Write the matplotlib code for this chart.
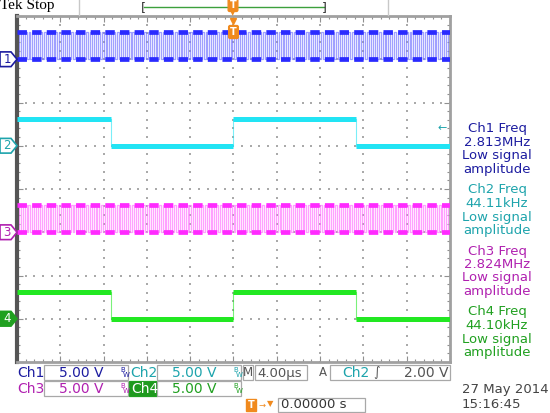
import numpy as np
import matplotlib
matplotlib.use('Agg')
from matplotlib import pyplot as plt
from matplotlib.patches import Rectangle, Polygon

# channel data
channels = ['Ch1', 'Ch2', 'Ch3', 'Ch4']
freq_labels = ['2.813MHz', '44.11kHz', '2.824MHz', '44.10kHz']
freq_hz = [2.813e6, 44.11e3, 2.824e6, 44.10e3]
offsets_div = [3, 1, -1, -3]          # ground marker positions (divisions)
amplitude_v = [3.1, 3.1, 3.1, 3.1]    # logic high level, volts
volts_per_div = [5.0, 5.0, 5.0, 5.0]
# edge times (us) of the slow word-clock channels, first level is high
slow_edges_us = [-11.3, 0.0, 11.3]
time_per_div_us = 4.0
trig_level_v = 2.00

trace_colors = ['#2a2aff', '#22e4f4', '#ff2aff', '#22e822']
text_colors = ['#1c1ca0', '#1ea4ac', '#b020b0', '#20a020']
orange = '#f08a1e'

W, H = 550, 413
fig = plt.figure(figsize=(5.5, 4.13), dpi=100)
fx = lambda x: x / W
fy = lambda y: 1 - y / H

ax = fig.add_axes([fx(17), fy(362), 433 / W, 346 / H])
t0 = -5 * time_per_div_us
t1 = 5 * time_per_div_us
ax.set_xlim(t0, t1)
ax.set_ylim(-4, 4)

# graticule dots
for k in range(-4, 5):
    yy = np.arange(-4, 4.01, 0.2)
    ax.scatter(np.full(yy.size, k * time_per_div_us), yy, s=1.0, marker='s',
               color='#aaaaaa', linewidths=0, zorder=1)
for j in range(-3, 4):
    xx = np.arange(t0, t1 + 0.01, time_per_div_us / 5)
    ax.scatter(xx, np.full(xx.size, j), s=1.0, marker='s',
               color='#aaaaaa', linewidths=0, zorder=1)

ax.set_xticks(np.arange(t0, t1 + 0.1, time_per_div_us))
ax.set_xticks(np.arange(t0, t1 + 0.1, time_per_div_us / 5), minor=True)
ax.set_yticks(np.arange(-4, 4.1, 1))
ax.set_yticks(np.arange(-4, 4.1, 0.2), minor=True)
ax.tick_params(which='both', direction='in', top=True, right=True,
               labelbottom=False, labelleft=False, color='#909090')
ax.tick_params(which='major', length=4, width=0.8)
ax.tick_params(which='minor', length=2.5, width=0.8)
for s in ['top', 'right', 'bottom']:
    ax.spines[s].set_color('#a0a0a0')
    ax.spines[s].set_linewidth(2)
ax.spines['left'].set_color('#555555')
ax.spines['left'].set_linewidth(3)

# fast clocks (Ch1, Ch3)
for i in [0, 2]:
    half = 1e6 / freq_hz[i] / 2
    edges = np.arange(t0, t1 + half, half)
    lo = offsets_div[i]
    hi = lo + amplitude_v[i] / volts_per_div[i]
    lv = np.where(np.arange(edges.size) % 2 == 0, hi, lo)
    xs = np.repeat(edges, 2)[1:-1]
    ys = np.repeat(lv, 2)[:-2]
    light = '#7878ff' if i == 0 else '#ff78ff'
    ax.plot(xs, ys, color=light, lw=0.9, alpha=0.7, zorder=2)
    ax.plot([t0, t1], [hi, hi], color=trace_colors[i], lw=3.4,
            dashes=(2.0, 1.1), zorder=3)
    ax.plot([t0, t1], [lo, lo], color=trace_colors[i], lw=3.4,
            dashes=(2.0, 1.1), zorder=3)

# slow clocks (Ch2, Ch4)
for i in [1, 3]:
    lo = offsets_div[i]
    hi = lo + amplitude_v[i] / volts_per_div[i]
    bounds = [t0] + slow_edges_us + [t1]
    for n in range(len(bounds) - 1):
        lev = hi if n % 2 == 0 else lo
        ax.plot([bounds[n], bounds[n + 1]], [lev, lev], color=trace_colors[i],
                lw=3.6, solid_capstyle='butt', zorder=3)
    for e in slow_edges_us:
        ax.plot([e, e], [lo, hi], color=trace_colors[i], lw=0.8, alpha=0.6, zorder=2)

# channel ground markers
tr = ax.get_yaxis_transform()
pw = 1 / 433
for i, ch in enumerate(channels):
    y = offsets_div[i]
    h = 0.17
    pts = [(-17 * pw, y - h), (-6 * pw, y - h), (0, y), (-6 * pw, y + h), (-17 * pw, y + h)]
    filled = (i == 3)
    poly = Polygon(pts, closed=True, transform=tr, clip_on=False,
                   facecolor=text_colors[i] if filled else 'white',
                   edgecolor=text_colors[i], lw=1.2, zorder=5)
    ax.add_patch(poly)
    ax.text(-10 * pw, y, ch[-1], transform=tr, ha='center', va='center',
            fontsize=8.5, color='white' if filled else text_colors[i], zorder=6)

# trigger level arrow on right edge (Ch2)
ax.text(t1 - 0.3, offsets_div[1] + trig_level_v / volts_per_div[1], '\u2190',
        ha='right', va='center', fontsize=8, color=text_colors[1], zorder=6)

# trigger position marker at top of graticule
ax.text(0, 3.63, 'T', ha='center', va='center', fontsize=7, color='white',
        fontweight='bold', zorder=6,
        bbox=dict(boxstyle='round,pad=0.15', fc=orange, ec=orange))
ax.plot([0], [3.88], marker='v', color=orange, markersize=5, zorder=6)

# top bar
fig.text(fx(0), fy(6), 'Tek Stop', family='Liberation Serif', fontsize=11,
         va='center', ha='left', color='black')
for xs_ in [79, 388]:
    fig.add_artist(plt.Line2D([fx(xs_), fx(xs_)], [fy(0), fy(15)], color='#c8c8c8', lw=1))
fig.add_artist(plt.Line2D([fx(144), fx(324)], [fy(7), fy(7)], color='#3ca03c', lw=1))
fig.text(fx(141), fy(8), '[', fontsize=9, va='center', ha='left', color='#333333')
fig.text(fx(327), fy(8), ']', fontsize=9, va='center', ha='right', color='#333333')
fig.text(fx(233), fy(5), 'T', fontsize=7, va='center', ha='center', color='white',
         fontweight='bold', bbox=dict(boxstyle='round,pad=0.15', fc=orange, ec=orange))
fig.text(fx(233), fy(13), '\u25bc', fontsize=5, va='center', ha='center', color=orange)

# right-side measurement readouts
for i, ch in enumerate(channels):
    lines = [ch + ' Freq', freq_labels[i], 'Low signal', 'amplitude']
    for n, s in enumerate(lines):
        fig.text(fx(497), fy(129 + 61 * i + 13.5 * n), s, fontsize=9.5,
                 ha='center', va='center', color=text_colors[i])


def box(x0, y0, x1, y1, ec='#a8a8a8', fc='white'):
    fig.add_artist(Rectangle((fx(x0), fy(y1)), fx(x1 - x0), (y1 - y0) / H,
                             transform=fig.transFigure, fc=fc, ec=ec, lw=0.9))


def bw(x, y, c):
    fig.text(fx(x), fy(y - 3), 'B', fontsize=5, color=c, ha='left', va='center')
    fig.text(fx(x + 3), fy(y + 2), 'W', fontsize=5, color=c, ha='left', va='center')


# bottom status bar
rows = [373, 389]
for i in range(4):
    r = rows[i // 2]
    xo = 0 if i % 2 == 0 else 113
    if i == 3:
        box(129, r - 8, 157, r + 7, ec=text_colors[i], fc='#1e9a1e')
        fig.text(fx(131), fy(r), channels[i], fontsize=10, color='white',
                 ha='left', va='center')
    else:
        fig.text(fx(17 + xo), fy(r), channels[i], fontsize=10, color=text_colors[i],
                 ha='left', va='center')
    box(44 + xo, r - 8, 128 + xo, r + 7)
    fig.text(fx(81 + xo), fy(r), '%.2f V' % volts_per_div[i], fontsize=10,
             color=text_colors[i], ha='center', va='center')
    bw(120 + xo, r, text_colors[i])

box(243, 365, 253, 380)
fig.text(fx(248), fy(373), 'M', fontsize=8.5, color='#555555', ha='center', va='center')
box(255, 365, 307, 380)
fig.text(fx(257), fy(373), '%.2f\u00b5s' % time_per_div_us, fontsize=9.5,
         color='#555555', ha='left', va='center')
fig.text(fx(323), fy(373), 'A', fontsize=8.5, color='#555555', ha='center', va='center')
box(330, 365, 450, 380)
fig.text(fx(342), fy(373), 'Ch2', fontsize=10, color=text_colors[1], ha='left', va='center')
fig.text(fx(377), fy(373), '\u222b', fontsize=9, color='#555555', ha='center', va='center')
fig.text(fx(448), fy(373), '%.2f V' % trig_level_v, fontsize=10, color='#555555',
         ha='right', va='center')

fig.text(fx(251), fy(405), 'T', fontsize=7, va='center', ha='center', color='white',
         fontweight='bold', bbox=dict(boxstyle='square,pad=0.15', fc=orange, ec=orange))
fig.text(fx(262), fy(405), '\u2192', fontsize=6, va='center', ha='center', color=orange)
fig.text(fx(270), fy(404), '\u25bc', fontsize=6, va='center', ha='center', color=orange)
box(278, 398, 365, 412)
fig.text(fx(281), fy(405), '0.00000 s', fontsize=9.5, color='#333333',
         ha='left', va='center')

fig.text(fx(462), fy(390), '27 May 2014', fontsize=9.5, color='#444444',
         ha='left', va='center')
fig.text(fx(462), fy(404), '15:16:45', fontsize=9.5, color='#444444',
         ha='left', va='center')

fig.savefig('out.png', dpi=100)
